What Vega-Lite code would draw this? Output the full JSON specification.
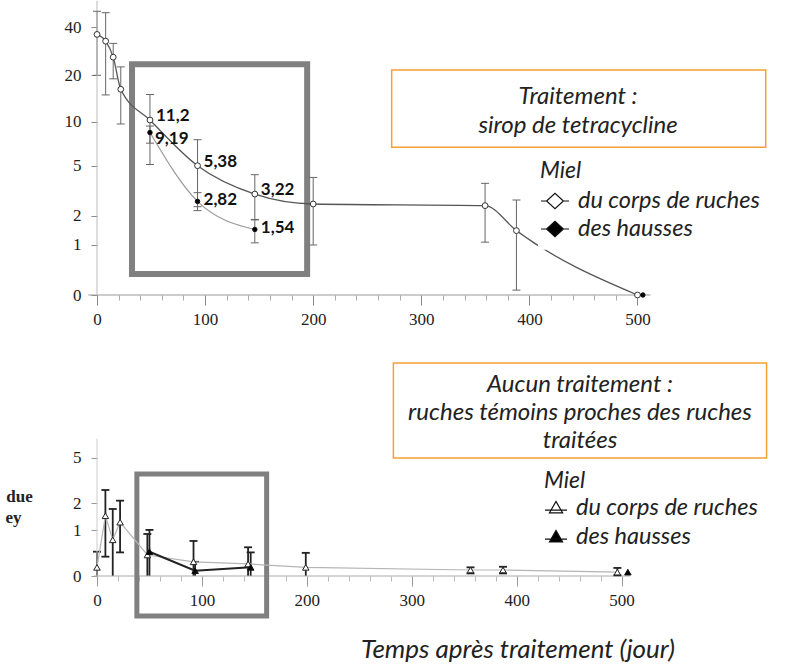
{
  "$schema": "https://vega.github.io/schema/vega-lite/v6.json",
  "autosize": {"type": "pad"},
  "padding": 0,
  "background": "white",
  "bounds": "flush",
  "spacing": 68,
  "config": {"view": {"stroke": null}},
  "datasets": {
    "haut": [
      {"jour": 0, "valeur": 36, "min": 20, "max": 50, "miel": "du corps de ruches"},
      {"jour": 8, "valeur": 32.7, "min": 15, "max": 49, "miel": "du corps de ruches"},
      {"jour": 15, "valeur": 26, "min": 19, "max": 31.7, "miel": "du corps de ruches"},
      {"jour": 22, "valeur": 16.3, "min": 9.7, "max": 22.6, "miel": "du corps de ruches"},
      {"jour": 49, "valeur": 10.3, "min": 5.1, "max": 15.1, "miel": "du corps de ruches", "etiquette": "11,2"},
      {"jour": 93, "valeur": 5.0, "min": 2.4, "max": 7.6, "miel": "du corps de ruches", "etiquette": "5,38"},
      {"jour": 146, "valeur": 3.05, "min": 1.83, "max": 4.3, "miel": "du corps de ruches", "etiquette": "3,22"},
      {"jour": 200, "valeur": 2.53, "min": 1.0, "max": 4.1, "miel": "du corps de ruches"},
      {"jour": 359, "valeur": 2.45, "min": 1.08, "max": 3.7, "miel": "du corps de ruches"},
      {"jour": 388, "valeur": 1.44, "min": 0.07, "max": 2.73, "miel": "du corps de ruches"},
      {"jour": 500, "valeur": 0, "miel": "du corps de ruches"},
      {"jour": 49, "valeur": 8.5, "min": 7.2, "max": 9.4, "miel": "des hausses", "etiquette": "9,19"},
      {"jour": 93, "valeur": 2.66, "min": 2.22, "max": 3.13, "miel": "des hausses", "etiquette": "2,82"},
      {"jour": 146, "valeur": 1.48, "min": 1.06, "max": 1.85, "miel": "des hausses", "etiquette": "1,54"},
      {"jour": 505, "valeur": 0, "miel": "des hausses"}
    ],
    "bas": [
      {"jour": 0, "valeur": 0.14, "min": 0, "max": 0.445, "miel": "du corps de ruches"},
      {"jour": 8, "valeur": 1.49, "min": 0.34, "max": 2.68, "miel": "du corps de ruches"},
      {"jour": 15, "valeur": 0.73, "min": 0, "max": 1.76, "miel": "du corps de ruches"},
      {"jour": 22, "valeur": 1.26, "min": 0.43, "max": 2.13, "miel": "du corps de ruches"},
      {"jour": 48, "valeur": 0.375, "min": 0, "max": 0.89, "miel": "du corps de ruches"},
      {"jour": 92, "valeur": 0.24, "min": 0, "max": 0.7, "miel": "du corps de ruches"},
      {"jour": 144, "valeur": 0.2, "min": 0, "max": 0.545, "miel": "du corps de ruches"},
      {"jour": 199, "valeur": 0.14, "min": 0, "max": 0.42, "miel": "du corps de ruches"},
      {"jour": 356, "valeur": 0.095, "min": 0.04, "max": 0.14, "miel": "du corps de ruches"},
      {"jour": 387, "valeur": 0.095, "min": 0.04, "max": 0.15, "miel": "du corps de ruches"},
      {"jour": 496, "valeur": 0.06, "min": 0.01, "max": 0.13, "miel": "du corps de ruches"},
      {"jour": 50, "valeur": 0.445, "min": 0, "max": 1.01, "miel": "des hausses"},
      {"jour": 93.5, "valeur": 0.084, "min": 0, "max": 0.24, "miel": "des hausses"},
      {"jour": 146.5, "valeur": 0.14, "min": 0, "max": 0.43, "miel": "des hausses"},
      {"jour": 506, "valeur": 0.06, "miel": "des hausses"}
    ]
  },
  "vconcat": [
    {
      "width": 694,
      "height": 295,
      "resolve": {"axis": {"x": "independent"}},
      "layer": [
        {
          "data": {"name": "haut"},
          "transform": [{"filter": "isValid(datum.min)"}],
          "mark": {"type": "rule", "color": "#666", "strokeWidth": 1},
          "encoding": {
            "x": {"field": "jour", "type": "quantitative", "scale": {"domain": [0, 642], "nice": false, "zero": false},
              "axis": {"orient": "bottom", "values": [0, 100, 200, 300, 400, 500], "domain": false, "grid": false, "tickSize": 10, "tickColor": "#888", "labelFont": "Liberation Serif", "labelFontSize": 17, "labelColor": "#222", "labelPadding": 6, "labelFlush": false, "labelOverlap": false, "title": null}},
            "y": {"field": "min", "type": "quantitative", "scale": {"type": "symlog", "constant": 1, "domain": [0, 58.63], "nice": false, "zero": false},
              "axis": {"orient": "left", "minExtent": 97, "values": [0, 1, 2, 5, 10, 20, 40], "domain": false, "grid": false, "tickSize": 6, "tickColor": "#888", "labelFont": "Liberation Serif", "labelFontSize": 17, "labelColor": "#222", "labelPadding": 10, "labelFlush": false, "labelOverlap": false, "title": null}},
            "y2": {"field": "max"}
          }
        },
        {
          "data": {"name": "haut"},
          "transform": [{"filter": "isValid(datum.min)"}],
          "mark": {"type": "tick", "orient": "horizontal", "color": "#666", "size": 8, "thickness": 1, "opacity": 1},
          "encoding": {
            "x": {"field": "jour", "type": "quantitative",
              "axis": {"orient": "bottom", "values": [20, 40, 60, 80, 120, 140, 160, 180, 220, 240, 260, 280, 320, 340, 360, 380, 420, 440, 460, 480], "domain": false, "grid": false, "labels": false, "tickSize": 5, "tickColor": "#aaa", "title": null}},
            "y": {"field": "min", "type": "quantitative"}
          }
        },
        {
          "data": {"values": [{}]},
          "mark": {"type": "rule", "color": "#999", "strokeWidth": 1},
          "encoding": {
            "x": {"datum": -8, "type": "quantitative", "axis": null},
            "x2": {"datum": 512},
            "y": {"datum": 0, "type": "quantitative"}
          }
        },
        {
          "data": {"values": [{}]},
          "mark": {"type": "rule", "color": "#bbb", "strokeWidth": 1},
          "encoding": {
            "x": {"datum": 0, "type": "quantitative", "axis": null},
            "y": {"datum": 0, "type": "quantitative"},
            "y2": {"datum": 58}
          }
        },
        {
          "data": {"values": [{}]},
          "mark": {"type": "rect", "fill": null, "fillOpacity": 0, "stroke": "#808080", "strokeWidth": 6},
          "encoding": {
            "x": {"datum": 32.4, "type": "quantitative", "axis": null},
            "x2": {"datum": 194.4},
            "y": {"datum": 23.5, "type": "quantitative"},
            "y2": {"datum": 0.34}
          }
        },
        {
          "data": {"name": "haut"},
          "transform": [{"filter": "datum.miel === 'des hausses' && datum.jour < 300"}],
          "mark": {"type": "line", "color": "#9a9a9a", "strokeWidth": 1.2, "interpolate": "monotone"},
          "encoding": {
            "x": {"field": "jour", "type": "quantitative", "axis": null},
            "y": {"field": "valeur", "type": "quantitative"}
          }
        },
        {
          "data": {"name": "haut"},
          "transform": [{"filter": "datum.miel === 'du corps de ruches'"}],
          "mark": {"type": "line", "color": "#555", "strokeWidth": 1.3, "interpolate": "monotone"},
          "encoding": {
            "x": {"field": "jour", "type": "quantitative", "axis": null},
            "y": {"field": "valeur", "type": "quantitative"}
          }
        },
        {
          "data": {"name": "haut"},
          "transform": [{"filter": "isValid(datum.max)"}],
          "mark": {"type": "tick", "orient": "horizontal", "color": "#666", "size": 8, "thickness": 1, "opacity": 1},
          "encoding": {
            "x": {"field": "jour", "type": "quantitative", "axis": null},
            "y": {"field": "max", "type": "quantitative"}
          }
        },
        {
          "data": {"name": "haut"},
          "transform": [{"filter": "datum.miel === 'du corps de ruches'"}],
          "mark": {"type": "point", "shape": "circle", "filled": true, "size": 34, "stroke": "#333", "strokeWidth": 1, "opacity": 1},
          "encoding": {
            "x": {"field": "jour", "type": "quantitative", "axis": null},
            "y": {"field": "valeur", "type": "quantitative"},
            "fill": {"field": "miel", "type": "nominal", "scale": {"domain": ["du corps de ruches", "des hausses"], "range": ["white", "black"]},
              "legend": {"title": "Miel", "orient": "none", "legendX": 443, "legendY": 160, "symbolType": "M-1,0H-0.6M0.6,0H1M-0.6,0L0,-0.55L0.6,0L0,0.55Z", "symbolSize": 784, "symbolStrokeColor": "#111", "symbolStrokeWidth": 1.2, "symbolOpacity": 1, "labelFont": "Lato", "labelFontStyle": "italic", "labelFontSize": 23.5, "labelColor": "#222", "labelOffset": 8, "labelLimit": 400, "titleFont": "Lato", "titleFontStyle": "italic", "titleFontWeight": "normal", "titleFontSize": 23, "titleColor": "#222", "titlePadding": 3, "rowPadding": 1}}
          }
        },
        {
          "data": {"name": "haut"},
          "transform": [{"filter": "datum.miel === 'des hausses'"}],
          "mark": {"type": "point", "shape": "circle", "filled": true, "size": 20, "stroke": "#111", "strokeWidth": 1, "opacity": 1},
          "encoding": {
            "x": {"field": "jour", "type": "quantitative", "axis": null},
            "y": {"field": "valeur", "type": "quantitative"},
            "fill": {"field": "miel", "type": "nominal", "scale": {"domain": ["du corps de ruches", "des hausses"], "range": ["white", "black"]}}
          }
        },
        {
          "data": {"name": "haut"},
          "transform": [{"filter": "isValid(datum.etiquette) && datum.miel === 'du corps de ruches'"}],
          "mark": {"type": "text", "align": "left", "baseline": "middle", "dx": 6, "dy": -4, "font": "Lato", "fontSize": 17, "fontWeight": "bold", "color": "#111"},
          "encoding": {
            "x": {"field": "jour", "type": "quantitative", "axis": null},
            "y": {"field": "valeur", "type": "quantitative"},
            "text": {"field": "etiquette"}
          }
        },
        {
          "data": {"name": "haut"},
          "transform": [{"filter": "datum.etiquette === '9,19'"}],
          "mark": {"type": "text", "align": "left", "baseline": "middle", "dx": 5, "dy": 6, "font": "Lato", "fontSize": 17, "fontWeight": "bold", "color": "#111"},
          "encoding": {
            "x": {"field": "jour", "type": "quantitative", "axis": null},
            "y": {"field": "valeur", "type": "quantitative"},
            "text": {"field": "etiquette"}
          }
        },
        {
          "data": {"name": "haut"},
          "transform": [{"filter": "isValid(datum.etiquette) && datum.miel === 'des hausses' && datum.etiquette !== '9,19'"}],
          "mark": {"type": "text", "align": "left", "baseline": "middle", "dx": 6, "dy": -1, "font": "Lato", "fontSize": 17, "fontWeight": "bold", "color": "#111"},
          "encoding": {
            "x": {"field": "jour", "type": "quantitative", "axis": null},
            "y": {"field": "valeur", "type": "quantitative"},
            "text": {"field": "etiquette"}
          }
        },
        {
          "data": {"values": [{}]},
          "mark": {"type": "rect", "fill": "white", "stroke": null},
          "encoding": {
            "x": {"datum": 408, "type": "quantitative", "axis": null},
            "x2": {"datum": 632},
            "y": {"datum": 6.16, "type": "quantitative"},
            "y2": {"datum": 0.87}
          }
        },
        {
          "data": {"values": [{}]},
          "mark": {"type": "rect", "fill": "white", "stroke": "#f5a033", "strokeWidth": 1.5},
          "encoding": {
            "x": {"datum": 272.6, "type": "quantitative", "axis": null},
            "x2": {"datum": 618.6},
            "y": {"datum": 21.6, "type": "quantitative"},
            "y2": {"datum": 6.74}
          }
        },
        {
          "data": {"values": [{}]},
          "mark": {"type": "text", "align": "center", "baseline": "alphabetic", "font": "Lato", "fontStyle": "italic", "fontSize": 24, "lineHeight": 29, "color": "#222"},
          "encoding": {
            "x": {"datum": 445, "type": "quantitative", "axis": null},
            "y": {"datum": 13.11, "type": "quantitative"},
            "text": {"value": ["Traitement :", "sirop de tetracycline"]}
          }
        }
      ]
    },
    {
      "width": 694,
      "height": 213,
      "resolve": {"axis": {"x": "independent"}},
      "layer": [
        {
          "data": {"name": "bas"},
          "transform": [{"filter": "isValid(datum.min)"}],
          "mark": {"type": "rule", "color": "#222", "strokeWidth": 1.8},
          "encoding": {
            "x": {"field": "jour", "type": "quantitative", "scale": {"domain": [0, 661.5], "nice": false, "zero": false},
              "axis": {"orient": "bottom", "values": [0, 100, 200, 300, 400, 500], "domain": false, "grid": false, "tickSize": 10, "tickColor": "#999", "labelFont": "Liberation Serif", "labelFontSize": 17, "labelColor": "#222", "labelPadding": 6, "labelFlush": false, "labelOverlap": false, "title": null}},
            "y": {"field": "min", "type": "quantitative", "scale": {"type": "symlog", "constant": 1, "domain": [0, 24.2], "nice": false, "zero": false},
              "axis": {"orient": "left", "minExtent": 97, "values": [0, 1, 2, 5], "domain": false, "grid": false, "tickSize": 6, "tickColor": "#999", "labelFont": "Liberation Serif", "labelFontSize": 17, "labelColor": "#222", "labelPadding": 10, "labelFlush": false, "labelOverlap": false, "title": null}},
            "y2": {"field": "max"}
          }
        },
        {
          "data": {"name": "bas"},
          "transform": [{"filter": "isValid(datum.max)"}],
          "mark": {"type": "tick", "orient": "horizontal", "color": "#222", "size": 8, "thickness": 1.8, "opacity": 1},
          "encoding": {
            "x": {"field": "jour", "type": "quantitative",
              "axis": {"orient": "bottom", "values": [20, 40, 60, 80, 120, 140, 160, 180, 220, 240, 260, 280, 320, 340, 360, 380, 420, 440, 460, 480], "domain": false, "grid": false, "labels": false, "tickSize": 5, "tickColor": "#bbb", "title": null}},
            "y": {"field": "max", "type": "quantitative"}
          }
        },
        {
          "data": {"values": [{}]},
          "mark": {"type": "rule", "color": "#aaa", "strokeWidth": 1},
          "encoding": {
            "x": {"datum": -3, "type": "quantitative", "axis": null},
            "x2": {"datum": 508},
            "y": {"datum": 0, "type": "quantitative"}
          }
        },
        {
          "data": {"values": [{}]},
          "mark": {"type": "rule", "color": "#ccc", "strokeWidth": 1},
          "encoding": {
            "x": {"datum": 0, "type": "quantitative", "axis": null},
            "y": {"datum": 0, "type": "quantitative"},
            "y2": {"datum": 7}
          }
        },
        {
          "data": {"values": [{}]},
          "mark": {"type": "rect", "fill": null, "fillOpacity": 0, "stroke": "#808080", "strokeWidth": 5},
          "encoding": {
            "x": {"datum": 38, "type": "quantitative", "axis": null},
            "x2": {"datum": 161.7},
            "y": {"datum": 3.69, "type": "quantitative"},
            "y2": {"datum": -0.833}
          }
        },
        {
          "data": {"name": "bas"},
          "transform": [{"filter": "datum.miel === 'du corps de ruches'"}],
          "mark": {"type": "line", "color": "#b5b5b5", "strokeWidth": 1.2},
          "encoding": {
            "x": {"field": "jour", "type": "quantitative", "axis": null},
            "y": {"field": "valeur", "type": "quantitative"}
          }
        },
        {
          "data": {"name": "bas"},
          "transform": [{"filter": "datum.miel === 'des hausses' && datum.jour < 300"}],
          "mark": {"type": "line", "color": "#222", "strokeWidth": 2},
          "encoding": {
            "x": {"field": "jour", "type": "quantitative", "axis": null},
            "y": {"field": "valeur", "type": "quantitative"}
          }
        },
        {
          "data": {"name": "bas"},
          "transform": [{"filter": "isValid(datum.min) && datum.min > 0"}],
          "mark": {"type": "tick", "orient": "horizontal", "color": "#222", "size": 8, "thickness": 1.8, "opacity": 1},
          "encoding": {
            "x": {"field": "jour", "type": "quantitative", "axis": null},
            "y": {"field": "min", "type": "quantitative"}
          }
        },
        {
          "data": {"name": "bas"},
          "transform": [{"filter": "datum.miel === 'du corps de ruches'"}],
          "mark": {"type": "point", "shape": "triangle-up", "filled": true, "size": 42, "stroke": "#222", "strokeWidth": 1, "opacity": 1},
          "encoding": {
            "x": {"field": "jour", "type": "quantitative", "axis": null},
            "y": {"field": "valeur", "type": "quantitative"},
            "fill": {"field": "miel", "type": "nominal", "scale": {"domain": ["du corps de ruches", "des hausses"], "range": ["white", "black"]},
              "legend": {"title": "Miel", "orient": "none", "legendX": 447, "legendY": 107, "symbolType": "M-1,0.2H1M-0.6,0.45L0,-0.6L0.6,0.45Z", "symbolSize": 484, "symbolStrokeColor": "#111", "symbolStrokeWidth": 1.2, "symbolOpacity": 1, "labelFont": "Lato", "labelFontStyle": "italic", "labelFontSize": 23.5, "labelColor": "#222", "labelOffset": 8, "labelLimit": 400, "titleFont": "Lato", "titleFontStyle": "italic", "titleFontWeight": "normal", "titleFontSize": 23, "titleColor": "#222", "titlePadding": 3, "rowPadding": 5}}
          }
        },
        {
          "data": {"name": "bas"},
          "transform": [{"filter": "datum.miel === 'des hausses'"}],
          "mark": {"type": "point", "shape": "triangle-up", "filled": true, "size": 42, "stroke": "#111", "strokeWidth": 1, "opacity": 1},
          "encoding": {
            "x": {"field": "jour", "type": "quantitative", "axis": null},
            "y": {"field": "valeur", "type": "quantitative"},
            "fill": {"field": "miel", "type": "nominal", "scale": {"domain": ["du corps de ruches", "des hausses"], "range": ["white", "black"]}}
          }
        },
        {
          "data": {"values": [{}]},
          "mark": {"type": "rect", "fill": "white", "stroke": "#f5a033", "strokeWidth": 1.5},
          "encoding": {
            "x": {"datum": 282.5, "type": "quantitative", "axis": null},
            "x2": {"datum": 638.2},
            "y": {"datum": 24.2, "type": "quantitative"},
            "y2": {"datum": 4.98}
          }
        },
        {
          "data": {"values": [{}]},
          "mark": {"type": "text", "align": "center", "baseline": "alphabetic", "font": "Lato", "fontStyle": "italic", "fontSize": 24, "lineHeight": 28, "color": "#222"},
          "encoding": {
            "x": {"datum": 460.4, "type": "quantitative", "axis": null},
            "y": {"datum": 15.32, "type": "quantitative"},
            "text": {"value": ["Aucun traitement :", "ruches témoins proches des ruches", "traitées"]}
          }
        },
        {
          "data": {"values": [{}]},
          "mark": {"type": "text", "align": "center", "baseline": "alphabetic", "font": "Lato", "fontStyle": "italic", "fontSize": 26, "color": "#222"},
          "encoding": {
            "x": {"datum": 401.3, "type": "quantitative", "axis": null},
            "y": {"datum": -2.48, "type": "quantitative"},
            "text": {"value": "Temps après traitement (jour)"}
          }
        },
        {
          "data": {"values": [{}]},
          "mark": {"type": "text", "align": "right", "baseline": "middle", "font": "Liberation Serif", "fontWeight": "bold", "fontSize": 17, "color": "#222"},
          "encoding": {
            "x": {"datum": -61.3, "type": "quantitative", "axis": null},
            "y": {"datum": 2.325, "type": "quantitative"},
            "text": {"value": "due"}
          }
        },
        {
          "data": {"values": [{}]},
          "mark": {"type": "text", "align": "right", "baseline": "middle", "font": "Liberation Serif", "fontWeight": "bold", "fontSize": 17, "color": "#222"},
          "encoding": {
            "x": {"datum": -71.9, "type": "quantitative", "axis": null},
            "y": {"datum": 1.408, "type": "quantitative"},
            "text": {"value": "ey"}
          }
        }
      ]
    }
  ],
  "resolve": {
    "scale": {"x": "independent", "y": "independent", "fill": "independent"},
    "legend": {"fill": "independent"}
  }
}
